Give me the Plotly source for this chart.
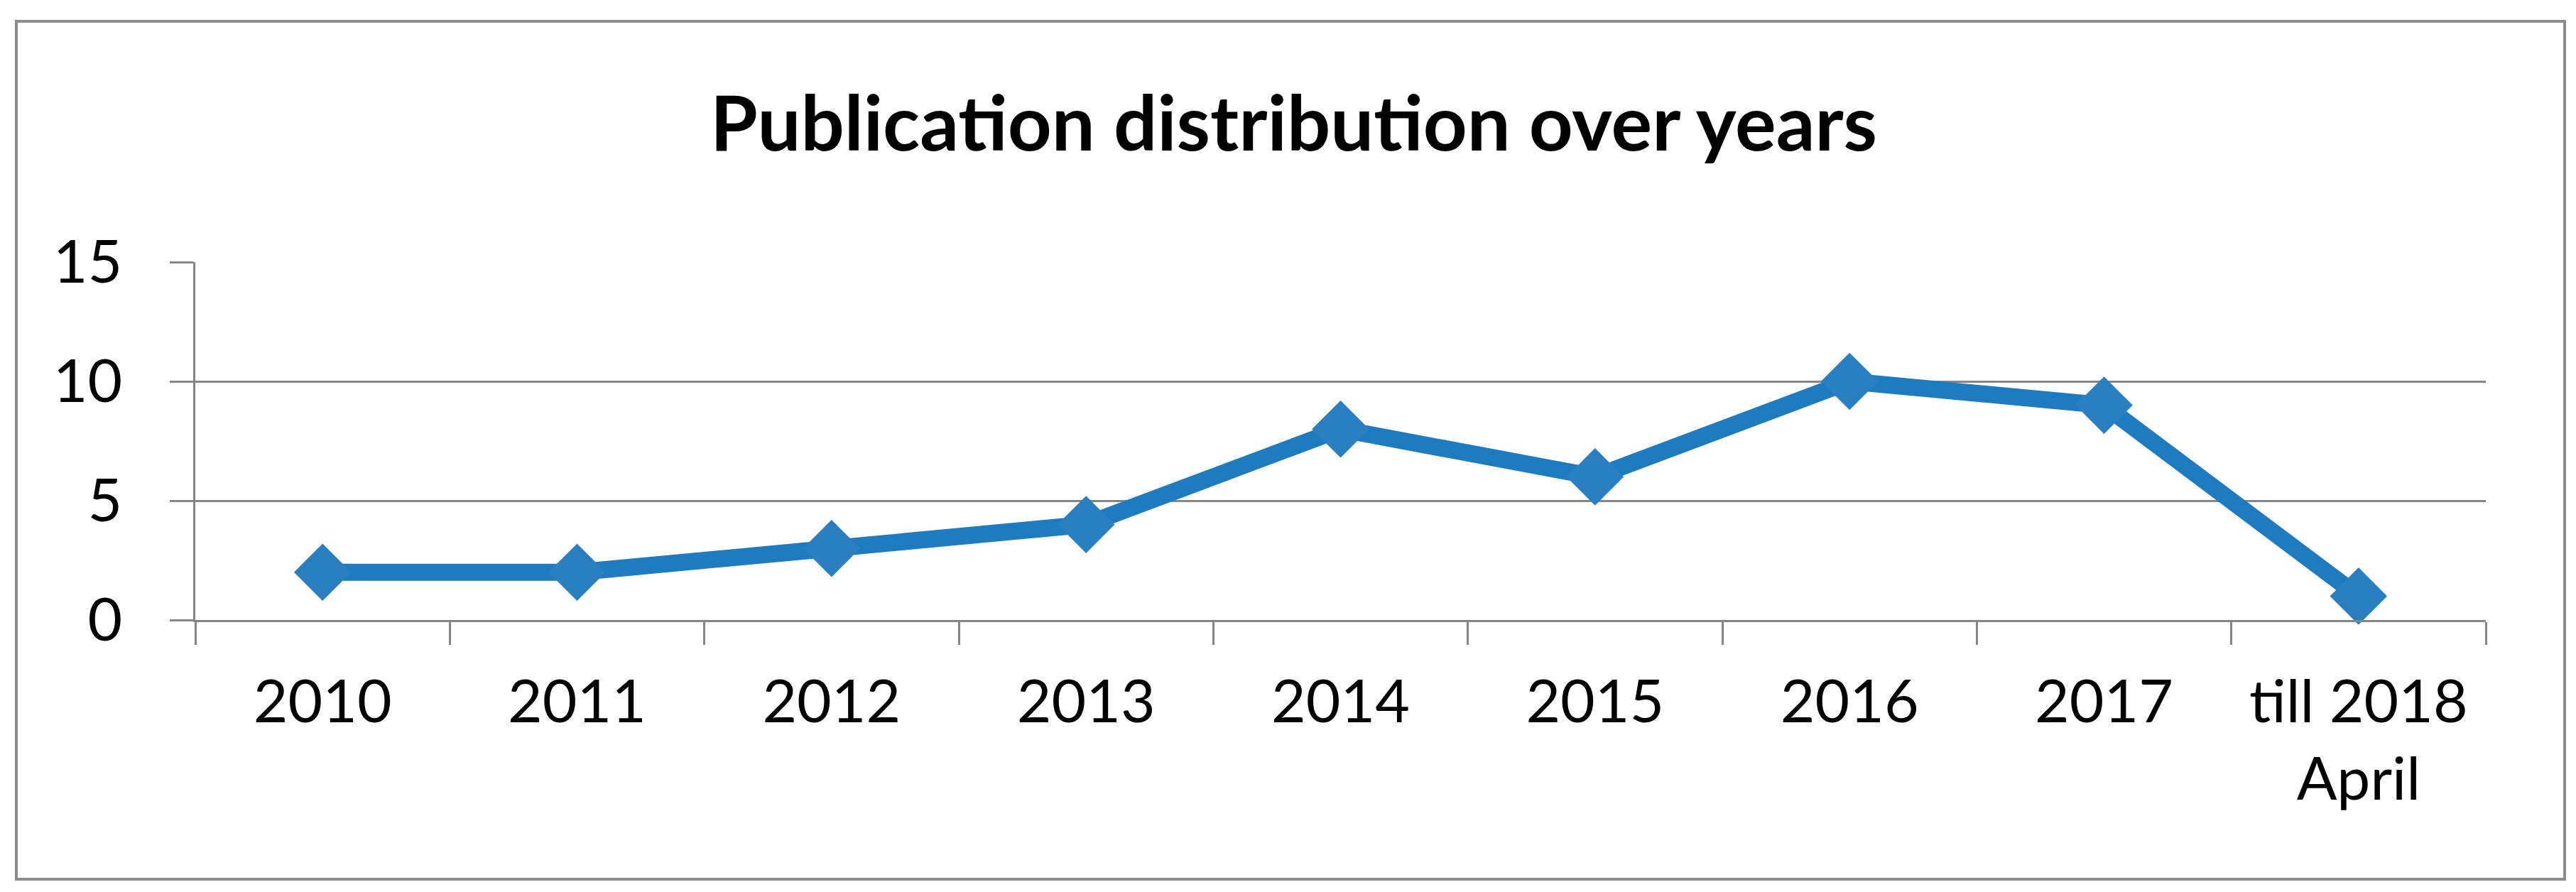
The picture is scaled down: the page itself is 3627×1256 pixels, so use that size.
import plotly.graph_objects as go

years = ["2010", "2011", "2012", "2013", "2014", "2015", "2016", "2017", "till 2018<br>April"]
publications = [2, 2, 3, 4, 8, 6, 10, 9, 1]
y_ticks = [0, 5, 10, 15]

W, H = 3627, 1256
# plot area in pixels (left, right, top, bottom)
L, R, T, B = 267, 3492, 361, 865
grey = "#868686"
blue = "#1f7bc0"

fig = go.Figure()
fig.add_trace(go.Scatter(
    x=years, y=publications,
    mode="lines+markers",
    line=dict(color=blue, width=24),
    marker=dict(symbol="diamond", size=62, color="#2a7fc1"),
    cliponaxis=False,
    showlegend=False,
))

pw, ph = R - L, B - T
# outer chart border (Excel style frame)
fig.add_shape(
    type="rect", xref="paper", yref="paper",
    x0=(15 - L) / pw, x1=(3603 - L) / pw,
    y0=-(1230 - B) / ph, y1=(B - 22) / ph,
    line=dict(color="#8c8c8c", width=4),
    layer="below",
)

fig.update_layout(
    width=W, height=H,
    margin=dict(l=L, r=W - R, t=T, b=H - B),
    paper_bgcolor="white", plot_bgcolor="white",
    font=dict(family="Lato, Carlito, sans-serif", color="#000000", size=84),
    title=dict(
        text="<b>Publication distribution over years</b>",
        x=0.5, xref="container", xanchor="center",
        y=1 - 166 / H, yref="container", yanchor="middle",
        font=dict(size=108, family="Lato, sans-serif", color="#000000"),
    ),
)
fig.update_xaxes(
    type="category", range=[-0.5, len(years) - 0.5],
    showline=True, linecolor=grey, linewidth=3,
    ticks="outside", tickson="boundaries", ticklen=32, tickwidth=3, tickcolor=grey,
    showgrid=False, zeroline=False,
    ticklabelstandoff=40,
)
fig.update_yaxes(
    range=[0, 15], tickvals=y_ticks,
    showline=True, linecolor=grey, linewidth=3,
    showgrid=True, gridcolor=grey, gridwidth=3,
    ticks="outside", ticklen=33, tickwidth=3, tickcolor=grey,
    zeroline=False, ticklabelstandoff=50,
)

fig.write_html("out.html")
